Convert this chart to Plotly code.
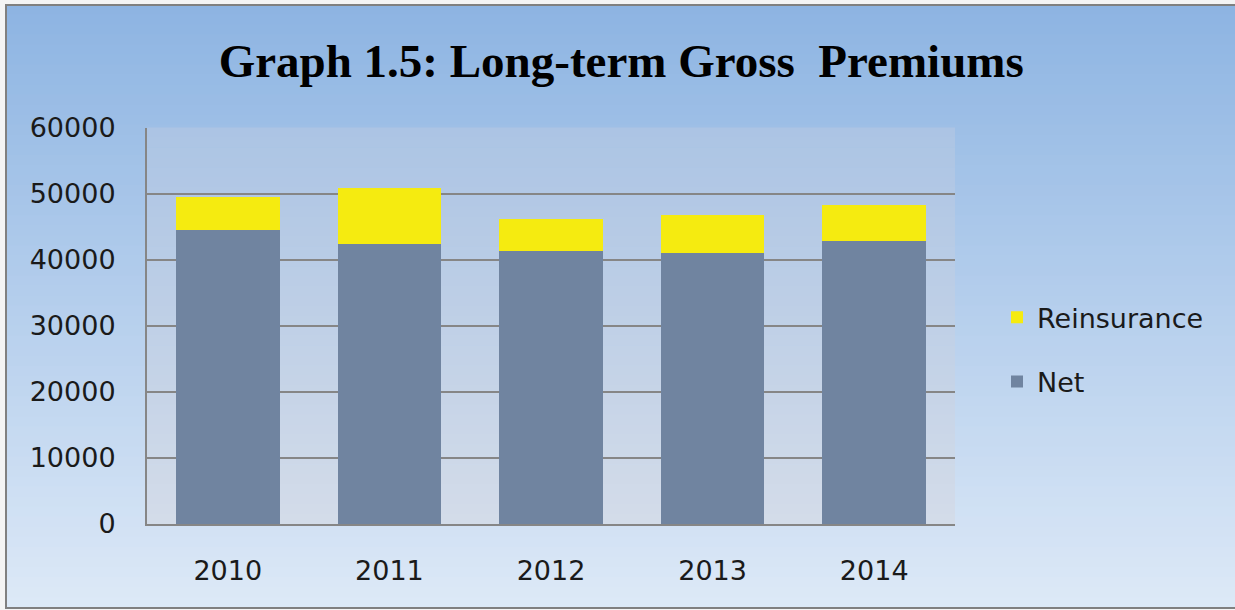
import plotly.graph_objects as go

years = ["2010", "2011", "2012", "2013", "2014"]
net = [44550, 42380, 41360, 41110, 42830]
reinsurance = [5040, 8480, 4900, 5660, 5500]
y_ticks = [0, 10000, 20000, 30000, 40000, 50000, 60000]

W, H = 1235, 610
ML, MR, MT, MB = 147, 280, 128, 86
PW, PH = W - ML - MR, H - MT - MB


def lerp(c1, c2, t):
    return "rgb(%d,%d,%d)" % tuple(round(a + (b - a) * t) for a, b in zip(c1, c2))


def px_x(p):
    return (p - ML) / PW


def px_y(p):
    return (H - MB - p) / PH


shapes = []
# outer background gradient (inside frame)
top_c, bot_c = (141, 180, 226), (221, 233, 247)
fx0, fx1 = px_x(6), px_x(W + 4)
y_top_px, y_bot_px = 5, 608
n = 60
for i in range(n):
    p0 = y_top_px + (y_bot_px - y_top_px) * i / n
    p1 = y_top_px + (y_bot_px - y_top_px) * (i + 1) / n
    shapes.append(dict(type="rect", xref="paper", yref="paper", layer="below",
                       x0=fx0, x1=fx1, y0=px_y(p1), y1=px_y(p0) + 0.002,
                       line=dict(width=0), fillcolor=lerp(top_c, bot_c, (i + 0.5) / n)))
# plot area gradient
ptop, pbot = (171, 196, 228), (212, 220, 233)
m = 40
for i in range(m):
    shapes.append(dict(type="rect", xref="paper", yref="paper", layer="below",
                       x0=0, x1=1, y0=1 - (i + 1) / m, y1=1 - i / m + 0.001,
                       line=dict(width=0), fillcolor=lerp(ptop, pbot, (i + 0.5) / m)))
# frame border
shapes.append(dict(type="rect", xref="paper", yref="paper", layer="below",
                   x0=fx0, x1=fx1, y0=px_y(y_bot_px), y1=px_y(y_top_px),
                   line=dict(color="#808080", width=2), fillcolor="rgba(0,0,0,0)"))

fig = go.Figure()
fig.add_trace(go.Bar(x=years, y=net, name="Net", legendgroup="net", legendrank=2,
                     marker=dict(color="#7084A0", line=dict(width=0))))
fig.add_trace(go.Bar(x=years, y=reinsurance, name="Reinsurance", legendgroup="re", legendrank=1,
                     marker=dict(color="#F5EB10", line=dict(width=0))))

fig.update_layout(
    width=W, height=H,
    barmode="stack", bargap=0.36,
    paper_bgcolor="#F4F4F4", plot_bgcolor="rgba(0,0,0,0)",
    margin=dict(l=ML, r=MR, t=MT, b=MB, pad=0),
    shapes=shapes,
    title=dict(text="<b>Graph 1.5: Long-term Gross  Premiums</b>", x=0.503, xanchor="center",
               xref="container", yref="container", y=1 - 61 / H, yanchor="middle",
               font=dict(family="Liberation Serif", size=47, color="black")),
    font=dict(family="DejaVu Sans", size=27, color="#1a1a1a"),
    legend=dict(traceorder="grouped", x=px_x(997), y=0.44, xanchor="left", yanchor="middle",
                bgcolor="rgba(0,0,0,0)", font=dict(size=27, family="DejaVu Sans"),
                tracegroupgap=26, itemwidth=30),
    xaxis=dict(showgrid=False, showline=True, linecolor="#868686", linewidth=2,
               ticks="", tickfont=dict(size=27), ticklabelstandoff=22),
    yaxis=dict(range=[0, 60000], tickvals=y_ticks, ticktext=[str(v) for v in y_ticks],
               showgrid=True, gridcolor="#868686", gridwidth=2,
               showline=True, linecolor="#868686", linewidth=2, zeroline=False,
               ticks="", tickfont=dict(size=27), ticklabelstandoff=24),
)

fig.write_html("out.html", config={"displayModeBar": False},
               post_script="document.body.style.margin='0';document.body.style.overflow='hidden';")
